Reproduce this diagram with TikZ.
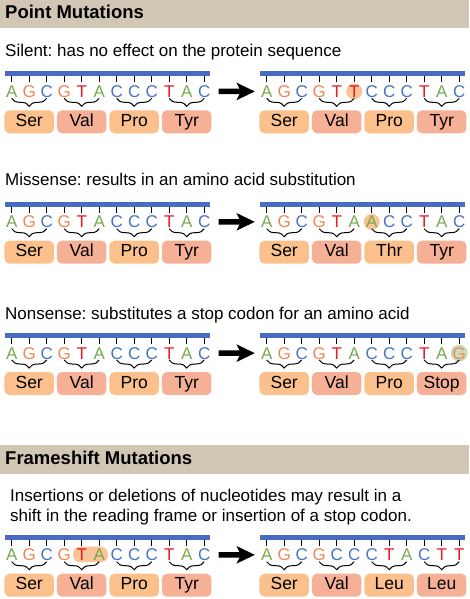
\documentclass[tikz,border=0pt]{standalone}
\usepackage{fontspec}
\setmainfont{Liberation Sans}
\usepackage{xcolor}
\usepackage{tikz}
\usetikzlibrary{arrows.meta,positioning,calc,backgrounds,decorations.pathreplacing}
\frenchspacing

\definecolor{bandtan}{RGB}{209,199,180}
\definecolor{dnablue}{RGB}{72,108,194}
\definecolor{ntA}{RGB}{120,168,80}
\definecolor{ntG}{RGB}{240,134,88}
\definecolor{ntC}{RGB}{72,114,196}
\definecolor{ntT}{RGB}{232,26,36}
\definecolor{aaorange}{RGB}{251,192,140}
\definecolor{aasalmon}{RGB}{245,176,150}
\definecolor{hlorange}{RGB}{249,196,150}
\definecolor{hlgreen}{RGB}{203,221,184}

% one DNA strand: name, x of first base, baseline, bases, amino acids
\newcommand{\strand}[5]{%
    \draw[dnabar] (#2-6.5,#3-23.5) -- (#2+198,#3-23.5);
    \foreach \nt [count=\i] in {#4}{
        \node[nuc\nt] (#1-\i) at ({#2+17.5*(\i-1)},#3) {\nt};
        \draw[tick] ($(#1-\i.base)+(0,-21)$) -- ($(#1-\i.base)+(0,-15)$);
    }
    \foreach \fst/\lst in {1/3,4/6,7/9,10/12}
        \draw[codon] ($(#1-\fst.base)+(0,1)$) -- ($(#1-\lst.base)+(0,1)$);
    \foreach \aa [count=\cod] in {#5}{
        \pgfmathtruncatemacro{\mid}{3*\cod-1}
        \ifodd\cod\def\aacol{aaorange}\else\def\aacol{aasalmon}\fi
        \node[aabox, fill=\aacol] (#1-aa\cod) at ($(#1-\mid.base)+(0,24.5)$) {\aa};
    }%
}

\begin{document}
\begin{tikzpicture}[
    x=1pt, y=-1pt,
    headtext/.style={font=\fontsize{18.5}{20}\selectfont\bfseries, inner sep=0pt, anchor=base west},
    bodytext/.style={font=\fontsize{17}{20}\selectfont, inner sep=0pt, anchor=base west},
    nuc/.style={font=\fontsize{17}{17}\selectfont, inner sep=0pt, anchor=base},
    nucA/.style={nuc, text=ntA},
    nucG/.style={nuc, text=ntG},
    nucC/.style={nuc, text=ntC},
    nucT/.style={nuc, text=ntT},
    dnabar/.style={line width=5pt, dnablue},
    tick/.style={line width=1.1pt, black},
    codon/.style={decorate, decoration={brace, mirror, amplitude=8pt}, line width=1pt, black},
    aabox/.style={rounded corners=5pt, minimum width=49.5pt, minimum height=23pt, inner sep=0pt,
        text height=12.5pt, text depth=3.5pt, font=\fontsize{17.5}{17.5}\selectfont},
    mutarrow/.style={-{Stealth[length=18pt,width=17pt,inset=4pt]}, line width=5.5pt,
        shorten <=8pt, shorten >=6pt}
]
    \useasboundingbox (0,0) rectangle (469,599);

    % Point mutations
    \fill[bandtan] (0,0) rectangle (469,28);
    \node[headtext] (hpoint) at (5,18.3) {Point Mutations};

    \node[bodytext] (silent) at (5,56.5) {Silent: has no effect on the protein sequence};
    \strand{r1a}{11.7}{97.3}{A,G,C,G,T,A,C,C,C,T,A,C}{Ser,Val,Pro,Tyr}
    \strand{r1b}{266.7}{97.3}{A,G,C,G,T,T,C,C,C,T,A,C}{Ser,Val,Pro,Tyr}
    \draw[mutarrow] (r1a-12) -- (r1b-1);

    \node[bodytext] (missense) at (5,185.7) {Missense: results in an amino acid substitution};
    \strand{r2a}{11.7}{227.7}{A,G,C,G,T,A,C,C,C,T,A,C}{Ser,Val,Pro,Tyr}
    \strand{r2b}{266.7}{227.7}{A,G,C,G,T,A,A,C,C,T,A,C}{Ser,Val,Thr,Tyr}
    \draw[mutarrow] (r2a-12) -- (r2b-1);

    \node[bodytext] (nonsense) at (5,319) {Nonsense: substitutes a stop codon for an amino acid};
    \strand{r3a}{11.7}{359}{A,G,C,G,T,A,C,C,C,T,A,C}{Ser,Val,Pro,Tyr}
    \strand{r3b}{266.7}{359}{A,G,C,G,T,A,C,C,C,T,A,G}{Ser,Val,Pro,Stop}
    \draw[mutarrow] (r3a-12) -- (r3b-1);

    % Frameshift mutations
    \fill[bandtan] (0,445) rectangle (469,474);
    \node[headtext] (hframe) at (5,464.3) {Frameshift Mutations};

    \node[bodytext] (insert1) at (10,501.7) {Insertions or deletions of nucleotides may result in a};
    \node[bodytext] (insert2) at (10,521.7) {shift in the reading frame or insertion of a stop codon.};
    \strand{r4a}{11.7}{560.7}{A,G,C,G,T,A,C,C,C,T,A,C}{Ser,Val,Pro,Tyr}
    \strand{r4b}{266.7}{560.7}{A,G,C,G,C,C,C,T,A,C,T,T}{Ser,Val,Leu,Leu}
    \draw[mutarrow] (r4a-12) -- (r4b-1);

    % Changed bases
    \begin{scope}[on background layer]
        \fill[hlorange] (r1b-6.center) circle[radius=8];
        \fill[hlorange] (r2b-7.center) circle[radius=8];
        \filldraw[fill=hlgreen, draw=hlgreen!70!ntA] (r3b-12.center) circle[radius=8];
        \fill[hlorange, rounded corners=7pt] ($(r4a-5.base)+(-8.7,-14)$) rectangle ($(r4a-6.base)+(8.7,1.5)$);
    \end{scope}
\end{tikzpicture}
\end{document}
